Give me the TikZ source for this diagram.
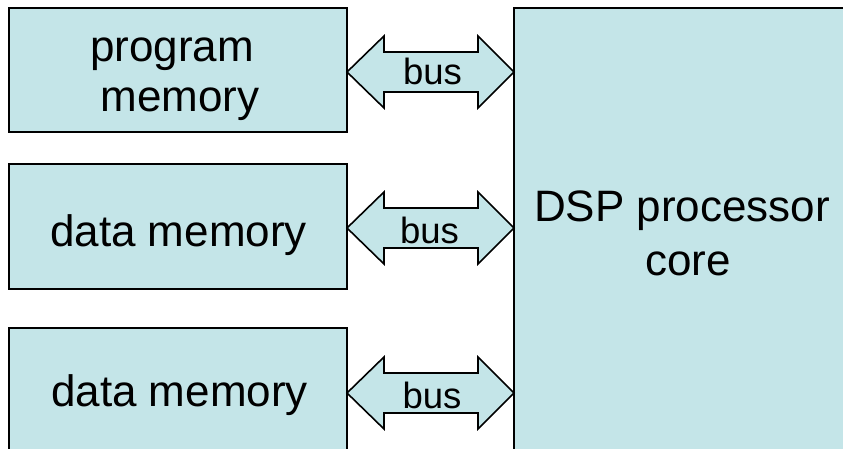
\documentclass[tikz,border=0pt]{standalone}
\usepackage{fontspec}
\setmainfont{Liberation Sans}
\usetikzlibrary{calc}
\definecolor{boxfill}{RGB}{196,229,232}
\begin{document}
\begin{tikzpicture}[x=1pt,y=-1pt,
  unit/.style={draw=black, line width=2pt, fill=boxfill, inner sep=0pt, outer sep=0pt},
  lbl/.style={font=\fontsize{44}{50}\selectfont, inner sep=0pt, anchor=base},
  buslbl/.style={font=\fontsize{36.5}{40}\selectfont, inner sep=0pt, anchor=base},
  busarrow/.style={draw=black, line width=1.6pt, fill=boxfill, line join=miter}]
\useasboundingbox (0,0) rectangle (843,449);
\clip (0,0) rectangle (843,449);

% memories on the left, processor core on the right
\node[unit, minimum width=338pt, minimum height=124pt] (pm) at (178,70) {};
\node[unit, minimum width=338pt, minimum height=125pt] (dm1) at (178,226.5) {};
\node[unit, minimum width=338pt, minimum height=124pt] (dm2) at (178,390) {};
\node[unit, minimum width=340pt, minimum height=460pt] (dsp) at (684,238) {};

\node[lbl] (pmt1) at (172,62) {program};
\node[lbl] (pmt2) at (180,112) {memory};
\node[lbl] (dm1t) at (178.5,246.7) {data memory};
\node[lbl] (dm2t) at (179.5,406.7) {data memory};
\node[lbl] (dspt1) at (682,222) {DSP processor};
\node[lbl] (dspt2) at (688,275) {core};

% bus end points on the box edges
\coordinate (l1) at (pm.east |- 0,72);
\coordinate (r1) at (dsp.west |- 0,72);
\coordinate (l2) at (dm1.east |- 0,228);
\coordinate (r2) at (dsp.west |- 0,228);
\coordinate (l3) at (dm2.east |- 0,393);
\coordinate (r3) at (dsp.west |- 0,393);

% double-headed block arrows
\foreach \i in {1,2,3}{
  \draw[busarrow] (l\i) -- ($(l\i)+(37,-36)$) -- ($(l\i)+(37,-20)$)
    -- ($(r\i)+(-36,-20)$) -- ($(r\i)+(-36,-36)$) -- (r\i)
    -- ($(r\i)+(-36,36)$) -- ($(r\i)+(-36,20)$)
    -- ($(l\i)+(37,20)$) -- ($(l\i)+(37,36)$) -- cycle;
}

\node[buslbl] (bus1) at (432.5,85) {bus};
\node[buslbl] (bus2) at (429.5,243) {bus};
\node[buslbl] (bus3) at (432,408) {bus};
\end{tikzpicture}
\end{document}
